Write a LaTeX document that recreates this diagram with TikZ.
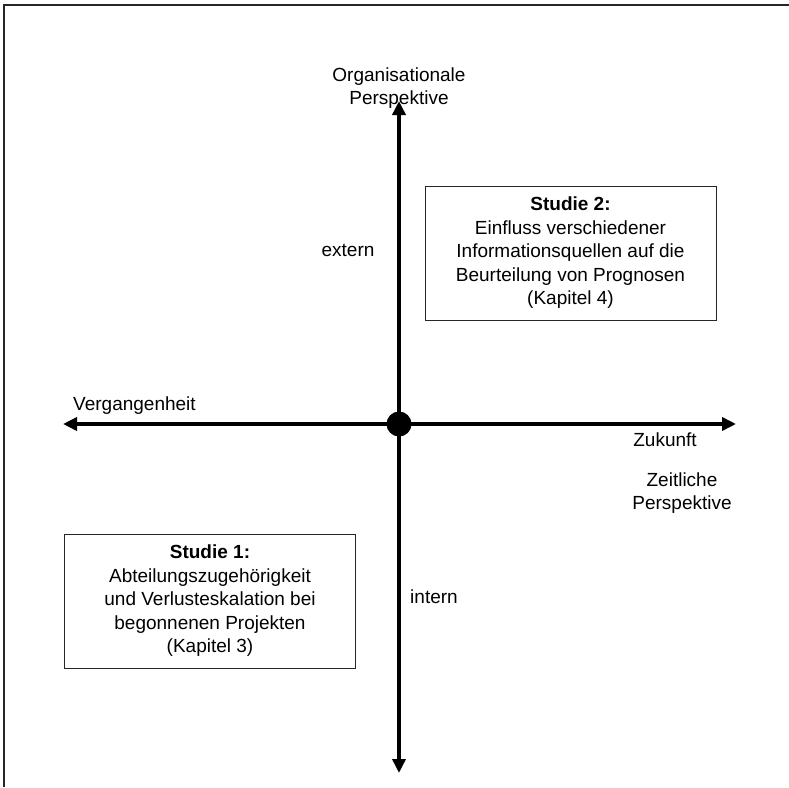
\documentclass[tikz,border=0pt]{standalone}
\usepackage{fontspec}
\setmainfont{Liberation Sans}
\usetikzlibrary{arrows.meta}
\begin{document}
\begin{tikzpicture}[x=1pt,y=-1pt,
  axis/.style={line width=4pt,-{Triangle[length=14pt,width=13pt]}},
  lbl/.style={inner sep=0pt,font=\fontsize{19}{23.5}\selectfont,align=center},
  studybox/.style={draw=black!85,line width=1pt,minimum width=291pt,minimum height=134pt,inner sep=0pt,font=\fontsize{19}{23.5}\selectfont,align=center}]
\useasboundingbox (0,0) rectangle (789,787);
\draw[line width=2pt,black!85] (4,787) -- (4,5) -- (789,5);
\coordinate (c) at (399,424);
\coordinate (top) at (399,101);
\coordinate (bot) at (399,773);
\coordinate (lft) at (63,424);
\coordinate (rgt) at (736,424);
\draw[axis] (c) -- (top);
\draw[axis] (c) -- (bot);
\draw[axis] (c) -- (lft);
\draw[axis] (c) -- (rgt);
\node[circle,fill=black,minimum size=25pt,inner sep=0pt] (dot) at (c) {};
\node[lbl] (org) at (399,88) {Organisationale\\Perspektive};
\node[lbl] (ext) at (348,250) {extern};
\node[lbl] (int) at (434,597) {intern};
\node[lbl,anchor=west] (verg) at (73,406) {Vergangenheit};
\node[lbl] (zuk) at (665,440) {Zukunft};
\node[lbl] (zeit) at (682,493) {Zeitliche\\Perspektive};
\node[studybox] (s2) at (570.5,253) {\textbf{Studie 2:}\\Einfluss verschiedener\\Informationsquellen auf die\\Beurteilung von Prognosen\\(Kapitel 4)};
\node[studybox] (s1) at (210,601) {\textbf{Studie 1:}\\Abteilungszugehörigkeit\\und Verlusteskalation bei\\begonnenen Projekten\\(Kapitel 3)};
\end{tikzpicture}
\end{document}
